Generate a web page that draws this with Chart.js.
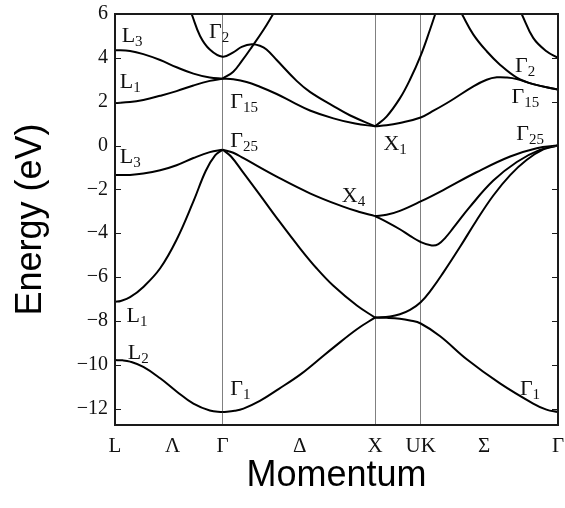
<!DOCTYPE html>
<html><head><meta charset="utf-8">
<script src="https://cdn.jsdelivr.net/npm/chart.js@4.4.1/dist/chart.umd.min.js"></script>
<style>html,body{margin:0;padding:0;background:#fff}#wrap{width:565px;height:508px}</style>
</head><body><div id="wrap"><canvas id="c" width="565" height="508"></canvas></div>
<script>
// k-path positions (percent of path) and their labels
const kPoints = [0, 13.0, 24.3, 41.7, 58.7, 69.0, 83.3, 100];
const kLabels = ['L', 'Λ', 'Γ', 'Δ', 'X', 'UK', 'Σ', 'Γ'];
const kLines = [24.3, 58.7, 69.0];
const yTicks = [6, 4, 2, 0, -2, -4, -6, -8, -10, -12];

// conduction bands [k, E(eV)]
const bandL3c = [[0,4.35],[3.4,4.31],[6.4,4.17],[10.2,3.9],[13.9,3.57],[17.7,3.28],[21.4,3.1],[24.3,3.05]];
const bandL1c = [[0,1.94],[3.4,1.98],[6.4,2.08],[10.2,2.27],[13.9,2.48],[17.7,2.74],[21.4,2.95],[24.3,3.05]];
const bandG2 = [[17.3,6.0],[19.2,5.0],[21.4,4.38],[24.3,4.05],[26.7,4.25],[28.6,4.5],[30.9,4.62],[32.7,4.55],[34.2,4.38],[36.5,3.9],[41.0,2.95],[44.0,2.45],[49.3,1.8],[53.0,1.38],[58.7,0.88]];
const bandG15up = [[24.3,3.05],[26.7,3.37],[28.6,3.85],[30.9,4.5],[33.5,5.27],[35.7,6.0]];
const bandG15dn = [[24.3,3.05],[26.7,3.02],[29.7,2.9],[32.7,2.68],[36.5,2.35],[40.2,1.97],[44.0,1.6],[49.3,1.24],[54.2,1.0],[58.7,0.88]];
const bandX1steep = [[58.7,0.88],[61.3,1.32],[64.3,2.15],[66.6,3.01],[69.0,4.1],[71.1,5.28],[72.3,6.0]];
const bandX1gentle = [[58.7,0.88],[61.3,0.92],[64.3,1.03],[69.0,1.28],[72.0,1.6],[75.6,2.02],[80.9,2.7],[83.9,3.0],[86.2,3.11],[88.5,3.1],[90.7,3.03],[94.4,2.8],[100,2.55]];
const bandSigmaDesc = [[78.3,6.0],[80.9,5.06],[83.9,4.3],[86.9,3.69],[90.7,3.1],[94.4,2.8],[100,2.55]];
const bandG2right = [[91.8,6.0],[94.4,4.91],[97.4,4.3],[100,4.0]];

// valence bands [k, E(eV)]
const bandL3v = [[0,-1.35],[3.4,-1.34],[6.4,-1.28],[10.2,-1.13],[13.9,-0.9],[17.7,-0.57],[21.4,-0.3],[24.3,-0.19]];
const bandL1v = [[0,-7.13],[1.3,-7.09],[3.4,-6.92],[6.4,-6.45],[10.2,-5.6],[13.9,-4.3],[17.7,-2.55],[20.5,-1.15],[22.6,-0.45],[24.3,-0.19]];
const bandL2 = [[0,-9.79],[1.7,-9.8],[3.4,-9.86],[6.4,-10.1],[10.2,-10.62],[13.9,-11.22],[17.7,-11.78],[21.4,-12.09],[24.3,-12.16]];
const bandG1X = [[24.3,-12.16],[27.0,-12.1],[29.0,-12.0],[32.7,-11.65],[37.0,-11.1],[41.8,-10.45],[45.5,-9.85],[49.3,-9.22],[54.6,-8.38],[58.7,-7.85]];
const bandG25X1 = [[24.3,-0.19],[26.2,-0.5],[29.0,-1.25],[32.7,-2.25],[36.5,-3.3],[41.8,-4.7],[45.5,-5.6],[49.3,-6.4],[54.6,-7.3],[58.7,-7.85]];
const bandG25X4 = [[24.3,-0.19],[26.7,-0.33],[29.0,-0.58],[36.5,-1.42],[44.0,-2.18],[51.5,-2.79],[55.0,-3.02],[58.7,-3.22]];
const bandX4up = [[58.7,-3.22],[61.3,-3.16],[64.3,-2.98],[69.0,-2.55],[74.1,-2.03],[81.6,-1.22],[89.2,-0.5],[95.2,-0.12],[100,0]];
const bandX4dn = [[58.7,-3.22],[61.3,-3.48],[64.3,-3.82],[66.6,-4.12],[69.0,-4.4],[71.5,-4.56],[73.0,-4.5],[74.6,-4.2],[76.4,-3.75],[80.1,-2.8],[85.4,-1.6],[90.7,-0.75],[95.9,-0.2],[100,0]];
const bandX1up = [[58.7,-7.85],[62.1,-7.8],[64.3,-7.7],[66.6,-7.5],[69.0,-7.15],[71.5,-6.55],[74.1,-5.8],[77.9,-4.62],[81.6,-3.42],[85.4,-2.28],[89.2,-1.35],[92.9,-0.66],[96.7,-0.18],[100,0]];
const bandX1dn = [[58.7,-7.85],[61.3,-7.86],[64.3,-7.9],[66.6,-7.98],[69.0,-8.12],[73.4,-8.7],[79.4,-9.75],[86.9,-10.85],[94.4,-11.77],[97.4,-12.05],[100,-12.16]];

// symmetry-point labels: [main, subscript, k, E]
const pointLabels = [
  ['L','3',1.5,4.74], ['Γ','2',21.2,4.9], ['L','1',1.1,2.61], ['Γ','15',26.0,1.70],
  ['Γ','25',26.0,-0.05], ['L','3',1.1,-0.81], ['L','1',2.6,-8.05], ['L','2',2.9,-9.72],
  ['Γ','1',26.0,-11.39], ['Γ','2',90.3,3.37], ['Γ','15',89.5,1.93], ['Γ','25',90.6,0.25],
  ['X','1',60.6,-0.21], ['X','4',51.2,-2.57], ['Γ','1',91.4,-11.39]
];

const bands = [bandL3c, bandL1c, bandG2, bandG15up, bandG15dn, bandX1steep, bandX1gentle, bandSigmaDesc, bandG2right,
  bandL3v, bandL1v, bandL2, bandG1X, bandG25X1, bandG25X4, bandX4up, bandX4dn, bandX1up, bandX1dn];

const framePlugin = {
  id: 'frame',
  afterDatasetsDraw(chart) {
    const {ctx, chartArea: a, scales: {y, x}} = chart;
    ctx.save();
    ctx.strokeStyle = '#1a1a1a';
    ctx.lineWidth = 1;
    yTicks.forEach(v => {
      const py = Math.round(y.getPixelForValue(v)) + 0.5;
      ctx.beginPath();
      ctx.moveTo(a.left, py); ctx.lineTo(a.left + 6, py);
      ctx.moveTo(a.right, py); ctx.lineTo(a.right - 6, py);
      ctx.stroke();
    });
    ctx.lineWidth = 2;
    ctx.strokeRect(a.left, a.top, a.right - a.left, a.bottom - a.top);
    ctx.fillStyle = '#111';
    ctx.textBaseline = 'alphabetic';
    ctx.textAlign = 'left';
    pointLabels.forEach(([m, s, k, e]) => {
      const px = x.getPixelForValue(k), py = y.getPixelForValue(e);
      ctx.font = '22px "Liberation Serif"';
      ctx.fillText(m, px, py);
      const w = ctx.measureText(m).width;
      ctx.font = '15px "Liberation Serif"';
      ctx.fillText(s, px + w, py + 4);
    });
    ctx.restore();
  }
};

new Chart(document.getElementById('c').getContext('2d'), {
  type: 'line',
  data: {
    datasets: bands.map(b => ({
      data: b.map(p => ({x: p[0], y: p[1]})),
      borderColor: '#000', borderWidth: 2, pointRadius: 0,
      tension: 0.4, fill: false, clip: 0
    }))
  },
  options: {
    responsive: false, animation: false,
    layout: {padding: {left: 0, top: 14, right: 7, bottom: 0}},
    plugins: {legend: {display: false}, tooltip: {enabled: false}},
    scales: {
      x: {
        type: 'linear', min: 0, max: 100,
        afterBuildTicks: s => { s.ticks = kPoints.map(v => ({value: v})); },
        afterFit: s => { s.height = 83; s.paddingLeft = 0; s.paddingRight = 0; },
        ticks: {autoSkip: false, maxRotation: 0, callback: v => kLabels[kPoints.indexOf(v)],
          font: {family: 'Liberation Serif', size: 21}, color: '#111', padding: 9},
        grid: {drawTicks: false, lineWidth: 1,
          color: c => (c.tick && kLines.includes(c.tick.value)) ? '#808080' : 'rgba(0,0,0,0)'},
        border: {display: false},
        title: {display: true, text: 'Momentum', color: '#000',
          font: {family: 'Liberation Sans', size: 36}, padding: {top: 0, bottom: 10}}
      },
      y: {
        min: -12.75, max: 6,
        afterBuildTicks: s => { s.ticks = yTicks.map(v => ({value: v})); },
        afterFit: s => { s.width = 115; s.paddingTop = 0; s.paddingBottom = 0; },
        ticks: {callback: v => (v < 0 ? '−' + Math.abs(v) : '' + v),
          font: {family: 'Liberation Serif', size: 20}, color: '#111', padding: 7},
        grid: {display: false, drawTicks: false},
        border: {display: false},
        title: {display: true, text: 'Energy (eV)', color: '#000',
          font: {family: 'Liberation Sans', size: 36}, padding: {top: 9, bottom: 0}}
      }
    }
  },
  plugins: [framePlugin]
});
</script></body></html>
